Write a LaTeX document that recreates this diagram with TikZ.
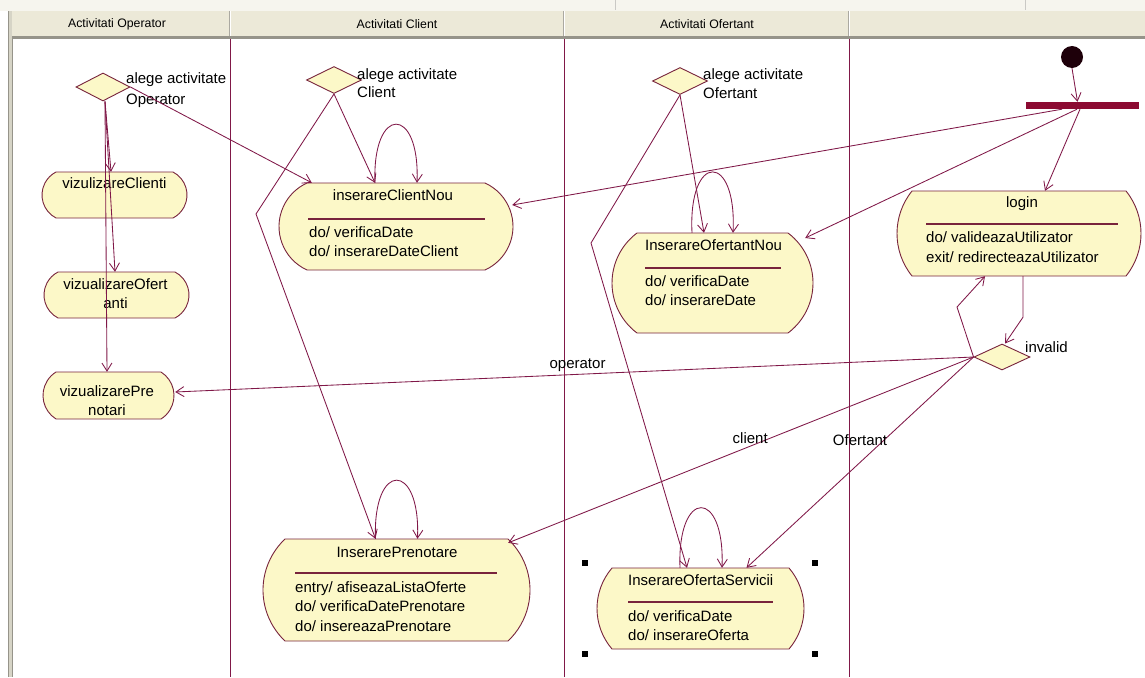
\documentclass[tikz,border=0pt]{standalone}
\usepackage{fontspec}
\setmainfont{Liberation Sans}
\usetikzlibrary{arrows.meta,calc,shapes.geometric}

\definecolor{ln}{RGB}{128,24,72}
\definecolor{bd}{RGB}{120,36,60}
\definecolor{cr}{RGB}{252,248,200}
\definecolor{hdr}{RGB}{236,233,216}
\definecolor{hdrline}{RGB}{150,148,138}
\definecolor{forkc}{RGB}{140,10,50}
\definecolor{initc}{RGB}{30,0,10}
\definecolor{topstrip}{RGB}{246,245,238}

\newcommand\actshape[5]{%
  \pgfmathsetmacro\hh{(#4-#2)/2}%
  \pgfmathsetmacro\RR{(#5*#5+\hh*\hh)/(2*#5)}%
  \pgfmathsetmacro\th{asin(\hh/\RR)}%
  \filldraw[actfill] (#1+#5,#2) -- (#3-#5,#2)
    arc[start angle=\th, end angle=-\th, radius=\RR pt] -- (#1+#5,#4)
    arc[start angle=180+\th, end angle=180-\th, radius=\RR pt] -- cycle;
}

\tikzset{
  actfill/.style={fill=cr, draw=bd, line width=0.9pt},
  box/.style={draw=none, inner sep=0pt, rectangle},
  dec/.style={diamond, aspect=2, draw=bd, fill=cr, line width=0.9pt, inner sep=0pt},
  txt/.style={inner sep=0pt, font=\fontsize{15}{19.5}\selectfont, text=black},
  htxt/.style={inner sep=0pt, font=\fontsize{12.3}{14}\selectfont, text=black},
  conn/.style={draw=ln, line width=0.85pt, -{Straight Barb[length=8pt,width=10pt]}},
  sepline/.style={draw=bd, line width=1.3pt},
  lane/.style={draw=ln, line width=0.8pt},
}

\begin{document}
\begin{tikzpicture}[x=1pt,y=-1pt]
\useasboundingbox (0,0) rectangle (1145,677);
\fill[white] (0,0) rectangle (1145,677);
% top strip and header
\fill[topstrip] (0,0) rectangle (1145,11);
\draw[hdrline!50, line width=0.8pt] (615,0) -- (615,10) (1025,0) -- (1025,10);
\fill[hdr] (8,11) rectangle (1145,36);
\fill[hdrline] (8,36) rectangle (1145,39);
\draw[hdrline!80, line width=0.8pt] (229,11) -- (229,36) (563,11) -- (563,36) (848,11) -- (848,36);
\draw[white, line width=0.8pt] (230,11) -- (230,36) (564,11) -- (564,36) (849,11) -- (849,36);
% left border
\fill[hdr!80!gray] (8,11) rectangle (12,677);
\draw[hdrline, line width=0.8pt] (8,11) -- (8,677) (12,39) -- (12,677);
% lane dividers
\draw[lane] (230,39) -- (230,677);
\draw[lane] (564,39) -- (564,677);
\draw[lane] (849,39) -- (849,677);
% header titles
\node[htxt] (h1) at (117,24) {Activitati Operator};
\node[htxt] (h2) at (397,24) {Activitati Client};
\node[htxt] (h3) at (707,24) {Activitati Ofertant};

% activity shapes
\actshape{42}{172}{187}{218}{14}
\actshape{44}{272}{189}{318}{14}
\actshape{43}{372}{174}{419}{13}
\actshape{279}{183}{513}{270}{28}
\actshape{612}{233}{813}{333}{25}
\actshape{897}{191}{1141}{276}{15}
\actshape{263}{539}{530}{641}{22}
\actshape{597}{568}{804}{649}{15}

% named boxes for connections
\node[box, minimum width=145pt, minimum height=46pt] (vC) at (114.5,195) {};
\node[box, minimum width=145pt, minimum height=46pt] (vO) at (116.5,295) {};
\node[box, minimum width=131pt, minimum height=47pt] (vP) at (108.5,395.5) {};
\node[box, minimum width=234pt, minimum height=87pt] (iCN) at (396,226.5) {};
\node[box, minimum width=201pt, minimum height=100pt] (iON) at (712.5,283) {};
\node[box, minimum width=244pt, minimum height=85pt] (login) at (1019,233.5) {};
\node[box, minimum width=267pt, minimum height=102pt] (iP) at (396.5,590) {};
\node[box, minimum width=207pt, minimum height=81pt] (iOS) at (700.5,608.5) {};

% decisions
\node[dec, minimum width=54pt, minimum height=28pt] (dOp) at (103,87) {};
\node[dec, minimum width=55pt, minimum height=27pt] (dCl) at (334,80) {};
\node[dec, minimum width=55pt, minimum height=27pt] (dOf) at (680,81) {};
\node[dec, minimum width=56pt, minimum height=26pt] (dInv) at (1002,357) {};

% initial and fork
\node[circle, fill=initc, minimum size=22pt, inner sep=0pt] (init) at (1072,57) {};
\node[rectangle, fill=forkc, minimum width=113pt, minimum height=7pt, inner sep=0pt] (fork) at (1082.5,105.5) {};

% decision labels
\node[txt, anchor=base west] (lOp1) at (126,84) {alege activitate};
\node[txt, anchor=base west] (lOp2) at (126,104) {Operator};
\node[txt, anchor=base west] (lCl1) at (357,79) {alege activitate};
\node[txt, anchor=base west] (lCl2) at (357,97) {Client};
\node[txt, anchor=base west] (lOf1) at (703,79) {alege activitate};
\node[txt, anchor=base west] (lOf2) at (703,98) {Ofertant};
\node[txt, anchor=base west] (lInv) at (1025,352) {invalid};

% activity texts
\node[txt, anchor=base] (tvC) at (114.5,188) {vizulizareClienti};
\node[txt, anchor=base] (tvO1) at (115.5,289) {vizualizareOfert};
\node[txt, anchor=base] (tvO2) at (115.5,308) {anti};
\node[txt, anchor=base] (tvP1) at (107,396) {vizualizarePre};
\node[txt, anchor=base] (tvP2) at (107,415) {notari};

\node[txt, anchor=base] (tiCN) at (393,200) {inserareClientNou};
\draw[sepline] (308,219) -- (485,219);
\node[txt, anchor=base west] (tiCN1) at (309,237) {do/ verificaDate};
\node[txt, anchor=base west] (tiCN2) at (309,256) {do/ inserareDateClient};

\node[txt, anchor=base west] (tiON) at (645,250) {InserareOfertantNou};
\draw[sepline] (645,268) -- (781,268);
\node[txt, anchor=base west] (tiON1) at (645,286) {do/ verificaDate};
\node[txt, anchor=base west] (tiON2) at (645,305) {do/ inserareDate};

\node[txt, anchor=base] (tlog) at (1022,207) {login};
\draw[sepline] (926,224) -- (1118,224);
\node[txt, anchor=base west] (tlog1) at (926,242) {do/ valideazaUtilizator};
\node[txt, anchor=base west] (tlog2) at (926,262) {exit/ redirecteazaUtilizator};

\node[txt, anchor=base] (tiP) at (397,557) {InserarePrenotare};
\draw[sepline] (295,573) -- (497,573);
\node[txt, anchor=base west] (tiP1) at (295,592) {entry/ afiseazaListaOferte};
\node[txt, anchor=base west] (tiP2) at (295,611) {do/ verificaDatePrenotare};
\node[txt, anchor=base west] (tiP3) at (295,631) {do/ insereazaPrenotare};

\node[txt, anchor=base west] (tiOS) at (628,585) {InserareOfertaServicii};
\draw[sepline] (628,602) -- (773,602);
\node[txt, anchor=base west] (tiOS1) at (628,621) {do/ verificaDate};
\node[txt, anchor=base west] (tiOS2) at (628,640) {do/ inserareOferta};

% selection handles
\fill[black] (582,560) rectangle (588,566);
\fill[black] (812,560) rectangle (818,566);
\fill[black] (582,651) rectangle (588,657);
\fill[black] (812,651) rectangle (818,657);

% connectors
\draw[conn] ($(dOp.south)+(2,0)$) -- ($(vC.north)+(-3.5,0)$);
\draw[conn] ($(dOp.south)+(2,0)$) -- ($(vO.north)+(-1.5,0)$);
\draw[conn] ($(dOp.south)+(2,0)$) -- ($(vP.north)+(-1.5,0)$);
\draw[conn] (dOp.east) -- ($(iCN.north west)+(33,0)$);
\draw[conn] (dCl.south) -- ($(iCN.north)+(-21,0)$);
\draw[conn] ($(iCN.north)+(-21,0)$) .. controls +(-3,-78) and +(3,-78) .. ($(iCN.north)+(21,0)$);
\coordinate (bCl) at (256,214);
\draw[conn] (dCl.south) -- (bCl) -- ($(iP.north)+(-21,0)$);
\draw[conn] ($(iP.north)+(-21,0)$) .. controls +(-3,-78) and +(3,-78) .. ($(iP.north)+(21,0)$);
\draw[conn] (dOf.south) -- ($(iON.north)+(-8.5,0)$);
\draw[conn] ($(iON.north)+(-20.5,0)$) .. controls +(-4,-81) and +(4,-81) .. ($(iON.north)+(20.5,0)$);
\coordinate (bOf) at (591,243);
\draw[conn] (dOf.south) -- (bOf) -- ($(iOS.north)+(-13.5,0)$);
\draw[conn] ($(iOS.north)+(-20.5,0)$) .. controls +(-3,-80) and +(3,-80) .. ($(iOS.north)+(21.5,0)$);
\draw[conn] (init.south) -- ($(fork.north)+(-5,0)$);
\draw[conn] ($(fork.south)+(-20.5,0)$) -- ($(iCN.east)+(-1,-21.5)$);
\draw[conn] ($(fork.south)+(-5.5,0)$) -- ($(iON.east)+(-8,-45)$);
\draw[conn] ($(fork.south)+(-2.5,0)$) -- ($(login.north)+(26,0)$);
\draw[conn] ($(login.south)+(4,0)$) -- ++(0,41) -- ($(dInv.north)+(3,0)$);
\coordinate (bInv) at (957,307);
\draw[conn] (dInv.west) -- (bInv) -- ($(login.south)+(-34,0)$);
\draw[conn] (dInv.west) -- node[txt, pos=0.496, yshift=9pt] (lop) {operator} ($(vP.east)+(1,-3.5)$);
\draw[conn] (dInv.west) -- node[txt, pos=0.48, yshift=8pt] (lcl) {client} ($(iP.north east)+(-22,4)$);
\draw[conn] (dInv.west) -- node[txt, pos=0.5, yshift=22pt] (lof) {Ofertant} ($(iOS.north)+(46,0)$);
\end{tikzpicture}
\end{document}
